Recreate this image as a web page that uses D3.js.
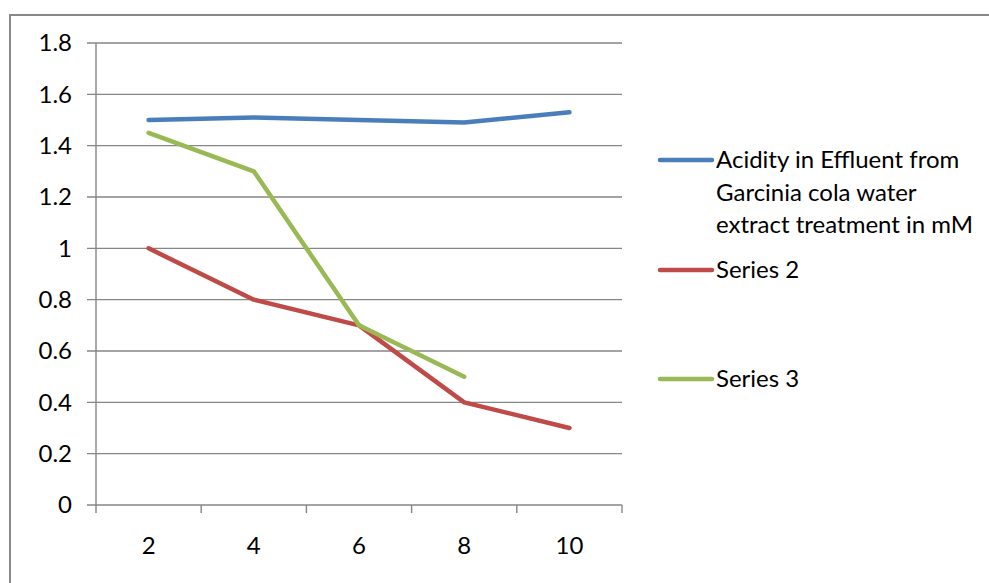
<!DOCTYPE html>
<html lang="en">
<head>
<meta charset="utf-8" />
<title>Acidity chart</title>
<script src="https://d3js.org/d3.v7.min.js"></script>
<style>
  body { margin: 0; background: #fff; }
  svg { display: block; font-family: Lato, "Open Sans", sans-serif; }
</style>
</head>
<body>
<div id="root"></div>
<script>
const categories = ["2", "4", "6", "8", "10"];
const acidity = [1.5, 1.51, 1.5, 1.49, 1.53];
const series2 = [1.0, 0.8, 0.7, 0.4, 0.3];
const series3 = [1.45, 1.3, 0.7, 0.5];
const yTicks = [0, 0.2, 0.4, 0.6, 0.8, 1, 1.2, 1.4, 1.6, 1.8];
const seriesNames = [
  ["Acidity in Effluent from", "Garcinia cola water", "extract treatment in mM"],
  ["Series 2"],
  ["Series 3"]
];
const colors = ["#4a7ebb", "#be4b48", "#98b954"];

const width = 989, height = 583;
const plotLeft = 96, plotRight = 622, plotTop = 43, plotBottom = 505;

const svg = d3.select("#root").append("svg")
    .attr("width", width)
    .attr("height", height);

// outer frame (runs off the bottom and right of the picture)
svg.append("rect")
    .attr("x", 10).attr("y", 15)
    .attr("width", 1000).attr("height", 600)
    .attr("fill", "none")
    .attr("stroke", "#888")
    .attr("stroke-width", 2);

const x = d3.scaleBand().domain(categories).range([plotLeft, plotRight]);
const y = d3.scaleLinear().domain([0, 1.8]).range([plotBottom, plotTop]);

// gridlines + y ticks
svg.append("g")
    .selectAll("line")
    .data(yTicks)
    .join("line")
      .attr("x1", plotLeft - 9)
      .attr("x2", plotRight)
      .attr("y1", d => y(d))
      .attr("y2", d => y(d))
      .attr("stroke", "#868686")
      .attr("stroke-width", 1.4);

svg.append("g")
    .attr("font-size", 24)
    .attr("fill", "#000")
    .attr("text-anchor", "end")
  .selectAll("text")
  .data(yTicks)
  .join("text")
    .attr("x", 72)
    .attr("y", d => y(d))
    .attr("dy", "0.35em")
    .text(d => d === 0 || d === 1 ? d : d.toFixed(1));

// y axis line
svg.append("line")
    .attr("x1", plotLeft).attr("x2", plotLeft)
    .attr("y1", plotTop).attr("y2", plotBottom)
    .attr("stroke", "#868686")
    .attr("stroke-width", 1.4);

// x axis
const xTickPos = categories.map(c => x(c)).concat([plotRight]);
svg.append("g")
    .selectAll("line")
    .data(xTickPos)
    .join("line")
      .attr("x1", d => d).attr("x2", d => d)
      .attr("y1", plotBottom).attr("y2", plotBottom + 8)
      .attr("stroke", "#868686")
      .attr("stroke-width", 1.4);

svg.append("g")
    .attr("font-size", 24)
    .attr("text-anchor", "middle")
  .selectAll("text")
  .data(categories)
  .join("text")
    .attr("x", d => x(d) + x.bandwidth() / 2)
    .attr("y", plotBottom + 41)
    .attr("dy", "0.35em")
    .text(d => d);

// lines
const line = d3.line()
    .x((d, i) => x(categories[i]) + x.bandwidth() / 2)
    .y(d => y(d));

[acidity, series2, series3].forEach((vals, i) => {
  svg.append("path")
      .attr("d", line(vals))
      .attr("fill", "none")
      .attr("stroke", colors[i])
      .attr("stroke-width", 4.5)
      .attr("stroke-linecap", "round")
      .attr("stroke-linejoin", "round");
});

// legend
const legendY = [160, 270, 379];
const legend = svg.append("g").attr("font-size", 24);
seriesNames.forEach((lines, i) => {
  legend.append("line")
      .attr("x1", 660).attr("x2", 712)
      .attr("y1", legendY[i]).attr("y2", legendY[i])
      .attr("stroke", colors[i])
      .attr("stroke-width", 4.5)
      .attr("stroke-linecap", "round");
  lines.forEach((t, j) => {
    legend.append("text")
        .attr("x", 716)
        .attr("y", legendY[i] + j * 32.5)
        .attr("dy", "0.35em")
        .text(t);
  });
});
</script>
</body>
</html>
